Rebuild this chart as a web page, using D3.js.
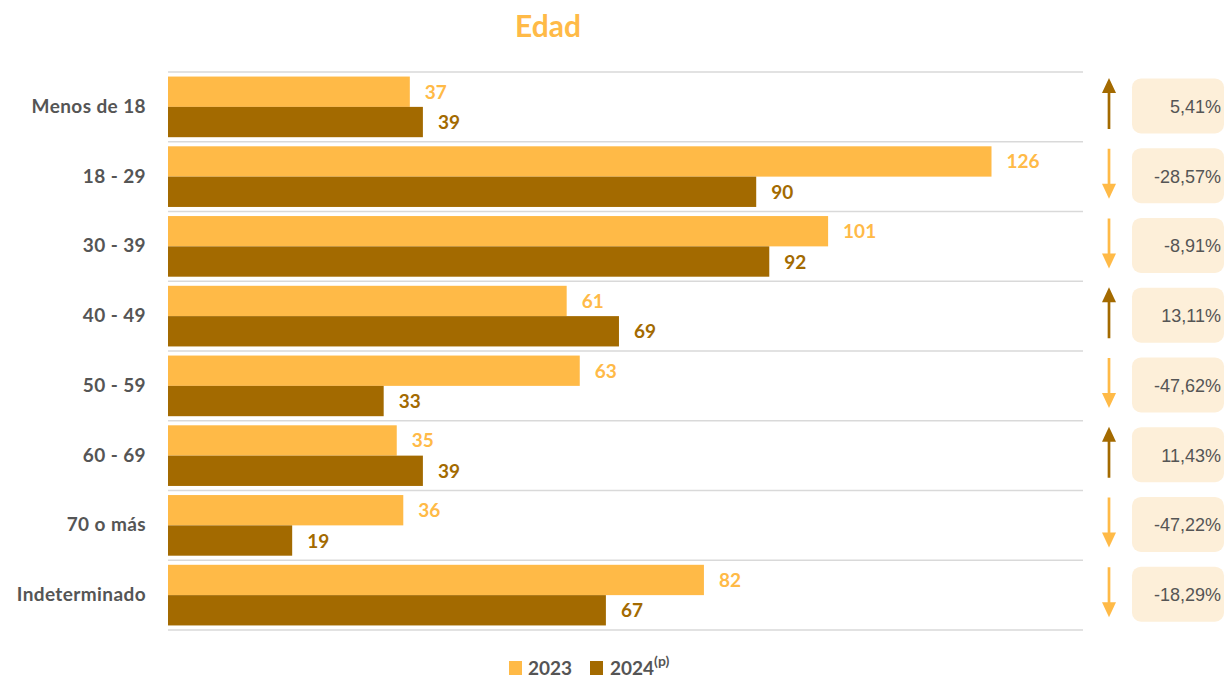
<!DOCTYPE html>
<html><head><meta charset="utf-8">
<script src="https://cdn.jsdelivr.net/npm/d3@7"></script>
<style>body{margin:0;background:#fff;} svg{display:block;}</style>
</head><body>
<svg id="c" width="1225" height="678"></svg>
<script>
const categories = ["Menos de 18","18 - 29","30 - 39","40 - 49","50 - 59","60 - 69","70 o más","Indeterminado"];
const values2023 = [37,126,101,61,63,35,36,82];
const values2024 = [39,90,92,69,33,39,19,67];
const changeLabels = ["5,41%","-28,57%","-8,91%","13,11%","-47,62%","11,43%","-47,22%","-18,29%"];
const seriesNames = ["2023","2024"];

(function(){
const C1 = "#FFBA47", C2 = "#A36A00";
const svg = d3.select("#c");
const pLeft = 168, pRight = 1083, pTop = 72, pBottom = 630;
const x = d3.scaleLinear().domain([0,140]).range([pLeft,pRight]);
const y = d3.scaleBand().domain(categories).range([pTop,pBottom]).paddingInner(0).paddingOuter(0);
const inner = d3.scaleBand().domain(seriesNames).range([0,y.bandwidth()]).paddingInner(0).paddingOuter(0.15);

svg.append("text").attr("x",548).attr("y",37).attr("text-anchor","middle")
  .attr("font-family","Lato").attr("font-weight","bold").attr("font-size",30).attr("fill",C1).text("Edad");

const lines = d3.range(categories.length+1).map(i=> i===categories.length ? pBottom : y(categories[i]));
svg.selectAll("line.g").data(lines).join("line").attr("class","g")
  .attr("x1",pLeft).attr("x2",pRight).attr("y1",d=>d).attr("y2",d=>d)
  .attr("stroke","#d9d9d9").attr("stroke-width",1.3);

const g = svg.selectAll("g.row").data(categories).join("g").attr("class","row")
  .attr("transform",d=>`translate(0,${y(d)})`);

const series = [values2023, values2024];
const colors = [C1, C2];
series.forEach((vals,si)=>{
  g.append("rect").attr("x",pLeft).attr("y",inner(seriesNames[si]))
    .attr("width",(d,i)=>x(vals[i])-pLeft).attr("height",inner.bandwidth()).attr("fill",colors[si]);
  g.append("text").attr("x",(d,i)=>x(vals[i])+15).attr("y",inner(seriesNames[si])+inner.bandwidth()/2+7)
    .attr("font-family","Lato").attr("font-weight","bold").attr("font-size",19).attr("fill",colors[si])
    .text((d,i)=>vals[i]);
});

g.append("text").attr("x",146).attr("y",y.bandwidth()/2+6).attr("text-anchor","end")
  .attr("font-family","Lato").attr("font-weight","bold").attr("font-size",19).attr("letter-spacing",0.4).attr("fill","#555")
  .text(d=>d);

g.each(function(d,i){
  const up = values2024[i] >= values2023[i];
  const col = up ? C2 : C1;
  const sel = d3.select(this);
  const cx = 1109, y0 = 6, y1 = 57;
  if(up){
    sel.append("line").attr("x1",cx).attr("x2",cx).attr("y1",y0+12).attr("y2",y1).attr("stroke",col).attr("stroke-width",2.7);
    sel.append("path").attr("d",`M${cx-7},${y0+15}L${cx},${y0}L${cx+7},${y0+15}Z`).attr("fill",col);
  } else {
    sel.append("line").attr("x1",cx).attr("x2",cx).attr("y1",y0+1).attr("y2",y1-12).attr("stroke",col).attr("stroke-width",2.7);
    sel.append("path").attr("d",`M${cx-7},${y1-15}L${cx},${y1}L${cx+7},${y1-15}Z`).attr("fill",col);
  }
  sel.append("rect").attr("x",1132).attr("y",y.bandwidth()/2-28.5).attr("width",92).attr("height",55)
    .attr("rx",9).attr("fill","#FDEFD9");
  sel.append("text").attr("x",1221).attr("y",y.bandwidth()/2+6).attr("text-anchor","end")
    .attr("font-family","Liberation Sans").attr("font-size",18).attr("fill","#555").text(changeLabels[i]);
});

const lg = svg.append("g");
lg.append("rect").attr("x",509).attr("y",661).attr("width",13).attr("height",14).attr("fill",C1);
lg.append("text").attr("x",528).attr("y",675).attr("font-family","Lato").attr("font-weight","bold").attr("font-size",19).attr("fill","#555").text(seriesNames[0]);
lg.append("rect").attr("x",590).attr("y",661).attr("width",13).attr("height",14).attr("fill",C2);
const t2 = lg.append("text").attr("x",610).attr("y",675).attr("font-family","Lato").attr("font-weight","bold").attr("font-size",19).attr("fill","#555");
t2.append("tspan").text(seriesNames[1]);
t2.append("tspan").attr("font-size",14).attr("dy",-9).text("(p)");
})();
</script>
</body></html>
